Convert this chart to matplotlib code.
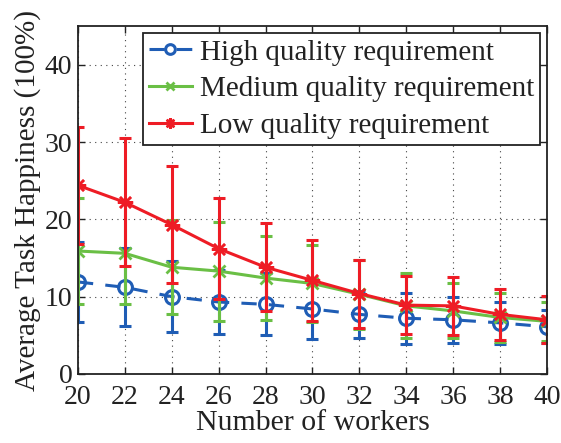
import matplotlib
matplotlib.use("Agg")
import matplotlib.pyplot as plt

plt.rcParams['font.family'] = ['Liberation Serif', 'DejaVu Serif']

workers = [20, 22, 24, 26, 28, 30, 32, 34, 36, 38, 40]

high = [11.9, 11.2, 10.0, 9.3, 9.0, 8.4, 7.7, 7.2, 7.0, 6.6, 6.1]
high_err = [5.15, 5.05, 4.6, 4.1, 4.0, 3.85, 3.0, 3.3, 2.95, 2.75, 2.15]

medium = [15.9, 15.6, 13.8, 13.3, 12.4, 11.7, 10.3, 8.8, 8.15, 7.3, 6.8]
medium_err = [6.85, 6.6, 6.05, 6.4, 5.45, 5.0, 4.5, 4.2, 3.55, 3.2, 2.5]

low = [24.4, 22.2, 19.3, 16.2, 13.8, 12.1, 10.4, 8.9, 8.8, 7.7, 7.0]
low_err = [7.6, 8.3, 7.6, 6.5, 5.7, 5.2, 4.4, 3.75, 3.8, 3.3, 3.05]

labels = ['High quality requirement', 'Medium quality requirement', 'Low quality requirement']
blue = '#1f5db5'
green = '#6abf45'
red = '#ee1c25'
ink = '#222222'

fig = plt.figure(figsize=(5.61, 4.43), dpi=100)
ax = fig.add_axes([0.139, 0.156, 0.836, 0.785])

# error bars + lines, drawn per series so red ends on top
ax.errorbar(workers, high, yerr=high_err, fmt='none', ecolor=blue,
            elinewidth=2.2, capsize=4, capthick=2.2)
h1, = ax.plot(workers, high, color=blue, ls='--', lw=2.2, dashes=(5, 4),
              marker='o', ms=10, mfc='none', mew=2.2)
ax.errorbar(workers, medium, yerr=medium_err, fmt='none', ecolor=green,
            elinewidth=2.2, capsize=4, capthick=2.2)
h2, = ax.plot(workers, medium, color=green, lw=2.2, marker='x', ms=8, mew=2)
ax.errorbar(workers, low, yerr=low_err, fmt='none', ecolor=red,
            elinewidth=2.2, capsize=4, capthick=2.2)
h3, = ax.plot(workers, low, color=red, lw=2.2, marker=(8, 2, 0), ms=11, mew=1.8)

ax.set_xlim(20, 40)
ax.set_ylim(0, 45)
ax.set_xticks(range(20, 41, 2))
ax.set_yticks([0, 10, 20, 30, 40])
ax.tick_params(direction='in', top=True, right=True, labelsize=20, length=5,
               width=1, pad=4, colors=ink)
ax.tick_params(axis='x', pad=8)
ax.grid(True, ls=(0, (1, 4)), color='#444444', lw=0.8)
for s in ax.spines.values():
    s.set_linewidth(1.3)
    s.set_color(ink)

ax.set_xlabel('Number of workers', fontsize=21.5, labelpad=0, color=ink)
ax.set_ylabel('Average Task Happiness (100%)', fontsize=21, labelpad=3, color=ink)

leg = ax.legend([h1, h2, h3], labels, loc='upper right', fontsize=21,
                frameon=True, fancybox=False, edgecolor=ink, framealpha=1,
                handlelength=1.5, borderpad=0.2, labelspacing=0.35,
                handletextpad=0.25, borderaxespad=0.25, markerscale=0.7)
leg.get_frame().set_linewidth(1.3)
for t in leg.get_texts():
    t.set_color(ink)

fig.savefig('out.png', dpi=100)
